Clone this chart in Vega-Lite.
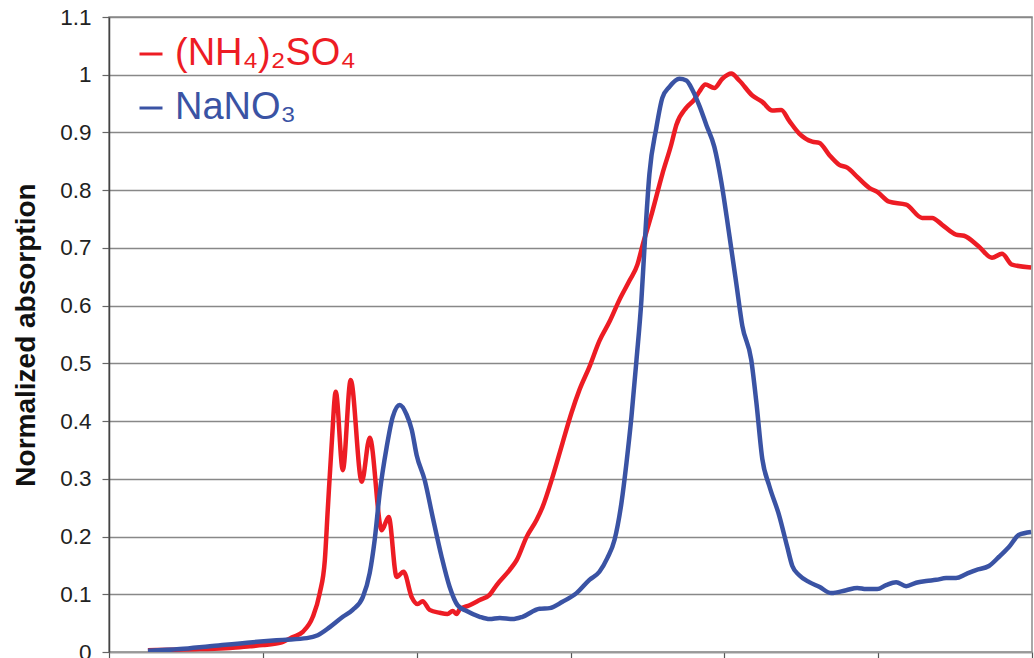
{
  "$schema": "https://vega.github.io/schema/vega-lite/v6.json",
  "autosize": {"type": "none"},
  "width": 923,
  "height": 635,
  "padding": {"left": 109, "top": 17, "right": 2, "bottom": 6},
  "background": "white",
  "config": {
    "font": "Liberation Sans",
    "view": {"stroke": "#8c8c8c", "strokeWidth": 1.5}
  },
  "datasets": {
    "red": [
      {"x": 25.3, "y": 0.003}, {"x": 59.1, "y": 0.005}, {"x": 78.6, "y": 0.007}, {"x": 91.6, "y": 0.010},
      {"x": 100, "y": 0.012}, {"x": 111, "y": 0.016}, {"x": 119.5, "y": 0.026}, {"x": 126, "y": 0.035},
      {"x": 132.5, "y": 0.061}, {"x": 137, "y": 0.102}, {"x": 140.3, "y": 0.159}, {"x": 142.2, "y": 0.246},
      {"x": 144.8, "y": 0.362}, {"x": 147.4, "y": 0.451}, {"x": 152, "y": 0.315}, {"x": 157.1, "y": 0.471},
      {"x": 164.3, "y": 0.295}, {"x": 169.5, "y": 0.371}, {"x": 177.3, "y": 0.211}, {"x": 181.8, "y": 0.234},
      {"x": 187, "y": 0.130}, {"x": 191.5, "y": 0.139}, {"x": 196.8, "y": 0.095}, {"x": 200.6, "y": 0.083},
      {"x": 203.9, "y": 0.088}, {"x": 208.4, "y": 0.073}, {"x": 215, "y": 0.068}, {"x": 220, "y": 0.066},
      {"x": 223.4, "y": 0.071}, {"x": 226, "y": 0.066}, {"x": 228, "y": 0.074}, {"x": 234.4, "y": 0.081},
      {"x": 241, "y": 0.090}, {"x": 247.4, "y": 0.099}, {"x": 252, "y": 0.116}, {"x": 260.4, "y": 0.142},
      {"x": 265, "y": 0.159}, {"x": 271.4, "y": 0.199}, {"x": 278, "y": 0.229}, {"x": 281.8, "y": 0.251},
      {"x": 288.3, "y": 0.303}, {"x": 294.8, "y": 0.362}, {"x": 300.6, "y": 0.414}, {"x": 305.8, "y": 0.454},
      {"x": 312.3, "y": 0.494}, {"x": 318.8, "y": 0.539}, {"x": 325.3, "y": 0.572}, {"x": 331.8, "y": 0.610},
      {"x": 338.3, "y": 0.643}, {"x": 343.5, "y": 0.671}, {"x": 346.8, "y": 0.704}, {"x": 353.2, "y": 0.763},
      {"x": 359.7, "y": 0.828}, {"x": 365.6, "y": 0.880}, {"x": 368.8, "y": 0.913}, {"x": 375.3, "y": 0.943},
      {"x": 380.5, "y": 0.957}, {"x": 383.8, "y": 0.971}, {"x": 387.7, "y": 0.983}, {"x": 393.5, "y": 0.977},
      {"x": 398.7, "y": 0.993}, {"x": 404.5, "y": 1.002}, {"x": 409.7, "y": 0.990}, {"x": 418.2, "y": 0.964},
      {"x": 424.7, "y": 0.953}, {"x": 431.2, "y": 0.938}, {"x": 437, "y": 0.939}, {"x": 442.2, "y": 0.920},
      {"x": 448.7, "y": 0.898}, {"x": 457.1, "y": 0.884}, {"x": 461.7, "y": 0.882}, {"x": 468.2, "y": 0.861},
      {"x": 474.7, "y": 0.844}, {"x": 479.9, "y": 0.839}, {"x": 486.4, "y": 0.823}, {"x": 494.2, "y": 0.804},
      {"x": 499.4, "y": 0.797}, {"x": 507.1, "y": 0.780}, {"x": 518.2, "y": 0.775}, {"x": 528.6, "y": 0.752},
      {"x": 535.1, "y": 0.752}, {"x": 541.6, "y": 0.740}, {"x": 550.6, "y": 0.723}, {"x": 555.8, "y": 0.721},
      {"x": 565.6, "y": 0.702}, {"x": 574, "y": 0.683}, {"x": 580.5, "y": 0.690}, {"x": 587, "y": 0.671},
      {"x": 599.4, "y": 0.666}
    ],
    "blue": [
      {"x": 25.3, "y": 0.002}, {"x": 46.1, "y": 0.005}, {"x": 65.6, "y": 0.010}, {"x": 93.5, "y": 0.017},
      {"x": 113, "y": 0.021}, {"x": 128.6, "y": 0.024}, {"x": 135.7, "y": 0.029}, {"x": 143.5, "y": 0.043},
      {"x": 152, "y": 0.061}, {"x": 158.4, "y": 0.073}, {"x": 165, "y": 0.095}, {"x": 169.5, "y": 0.137},
      {"x": 172.7, "y": 0.194}, {"x": 176, "y": 0.276}, {"x": 180.5, "y": 0.355}, {"x": 184.4, "y": 0.407},
      {"x": 189, "y": 0.428}, {"x": 193.5, "y": 0.411}, {"x": 196.8, "y": 0.385}, {"x": 200, "y": 0.341},
      {"x": 205.2, "y": 0.298}, {"x": 210.4, "y": 0.234}, {"x": 216.2, "y": 0.165}, {"x": 221.4, "y": 0.113},
      {"x": 226.6, "y": 0.081}, {"x": 232.5, "y": 0.071}, {"x": 241, "y": 0.061}, {"x": 247.4, "y": 0.057},
      {"x": 254, "y": 0.059}, {"x": 262.3, "y": 0.057}, {"x": 268.8, "y": 0.061}, {"x": 279.9, "y": 0.075},
      {"x": 286.4, "y": 0.076}, {"x": 294.8, "y": 0.087}, {"x": 303.9, "y": 0.102}, {"x": 312.3, "y": 0.125},
      {"x": 318.8, "y": 0.139}, {"x": 324, "y": 0.163}, {"x": 328.6, "y": 0.194}, {"x": 333.1, "y": 0.258},
      {"x": 336.4, "y": 0.328}, {"x": 339.6, "y": 0.407}, {"x": 342.9, "y": 0.506}, {"x": 346.1, "y": 0.610},
      {"x": 348, "y": 0.697}, {"x": 351.3, "y": 0.828}, {"x": 355.8, "y": 0.908}, {"x": 359.7, "y": 0.960},
      {"x": 364.3, "y": 0.979}, {"x": 370.8, "y": 0.993}, {"x": 375.3, "y": 0.990}, {"x": 379.2, "y": 0.974},
      {"x": 383.8, "y": 0.946}, {"x": 388.3, "y": 0.913}, {"x": 393.5, "y": 0.875}, {"x": 398, "y": 0.815},
      {"x": 403.2, "y": 0.723}, {"x": 407.8, "y": 0.638}, {"x": 411.7, "y": 0.565}, {"x": 417.5, "y": 0.506},
      {"x": 420.8, "y": 0.433}, {"x": 424.7, "y": 0.334}, {"x": 429.2, "y": 0.288}, {"x": 435.7, "y": 0.236},
      {"x": 440.9, "y": 0.182}, {"x": 444.2, "y": 0.149}, {"x": 448.7, "y": 0.133}, {"x": 455.2, "y": 0.121},
      {"x": 461.7, "y": 0.113}, {"x": 469.5, "y": 0.102}, {"x": 479.2, "y": 0.107}, {"x": 486.4, "y": 0.111},
      {"x": 492.2, "y": 0.109}, {"x": 499.4, "y": 0.109}, {"x": 505.2, "y": 0.116}, {"x": 511.7, "y": 0.121},
      {"x": 518.2, "y": 0.114}, {"x": 524.7, "y": 0.120}, {"x": 531.2, "y": 0.123}, {"x": 537.7, "y": 0.125},
      {"x": 544.2, "y": 0.128}, {"x": 550.6, "y": 0.128}, {"x": 557.1, "y": 0.135}, {"x": 563.6, "y": 0.142},
      {"x": 572, "y": 0.149}, {"x": 578.6, "y": 0.165}, {"x": 585, "y": 0.182}, {"x": 591.6, "y": 0.203},
      {"x": 599.4, "y": 0.208}
    ]
  },
  "layer": [
    {
      "data": {"name": "red"},
      "transform": [{"calculate": "'(NH₄)₂SO₄'", "as": "series"}],
      "mark": {"type": "line", "interpolate": "monotone", "strokeWidth": 4.5, "clip": true},
      "encoding": {
        "x": {"field": "x", "type": "quantitative"},
        "y": {"field": "y", "type": "quantitative"},
        "color": {"field": "series", "type": "nominal"}
      }
    },
    {
      "data": {"name": "blue"},
      "transform": [{"calculate": "'NaNO₃'", "as": "series"}],
      "mark": {"type": "line", "interpolate": "monotone", "strokeWidth": 4.5, "clip": true},
      "encoding": {
        "x": {"field": "x", "type": "quantitative"},
        "y": {"field": "y", "type": "quantitative"},
        "color": {"field": "series", "type": "nominal"}
      }
    }
  ],
  "resolve": {"scale": {"color": "shared"}},
  "encoding": {
    "x": {
      "field": "x", "type": "quantitative",
      "scale": {"domain": [0, 600], "nice": false, "zero": false},
      "axis": {
        "values": [0, 100, 200, 300, 400, 500, 600],
        "labels": false, "title": null, "grid": false,
        "domainColor": "#999999", "domainWidth": 1.5,
        "tickColor": "#555555", "tickSize": 7, "tickWidth": 1.2
      }
    },
    "y": {
      "field": "y", "type": "quantitative",
      "scale": {"domain": [0, 1.1], "nice": false},
      "axis": {
        "values": [0, 0.1, 0.2, 0.3, 0.4, 0.5, 0.6, 0.7, 0.8, 0.9, 1, 1.1],
        "format": "~g",
        "title": "Normalized absorption",
        "titleFont": "Liberation Sans", "titleFontSize": 28, "titleFontWeight": "bold",
        "titleColor": "#111111", "titlePadding": 19,
        "labelFont": "Liberation Sans", "labelFontSize": 22.5, "labelColor": "#222222",
        "labelPadding": 11,
        "domainColor": "#444444", "domainWidth": 1.5,
        "tickColor": "#666666", "tickSize": 7, "tickWidth": 1.2,
        "grid": true, "gridColor": "#888888", "gridWidth": 1.3
      }
    },
    "color": {
      "field": "series", "type": "nominal",
      "scale": {"domain": ["(NH₄)₂SO₄", "NaNO₃"], "range": ["#ED1C24", "#3A53A4"]},
      "legend": {
        "title": null, "orient": "none", "legendX": 23, "legendY": 18,
        "symbolType": "stroke", "symbolSize": 529, "symbolStrokeWidth": 3,
        "labelFont": "Liberation Sans", "labelFontSize": 38, "labelOffset": 5,
        "rowPadding": 16, "labelLimit": 500,
        "encode": {
          "labels": {"update": {"fill": {"signal": "datum.label == 'NaNO₃' ? '#3A53A4' : '#ED1C24'"}}}
        }
      }
    }
  }
}
